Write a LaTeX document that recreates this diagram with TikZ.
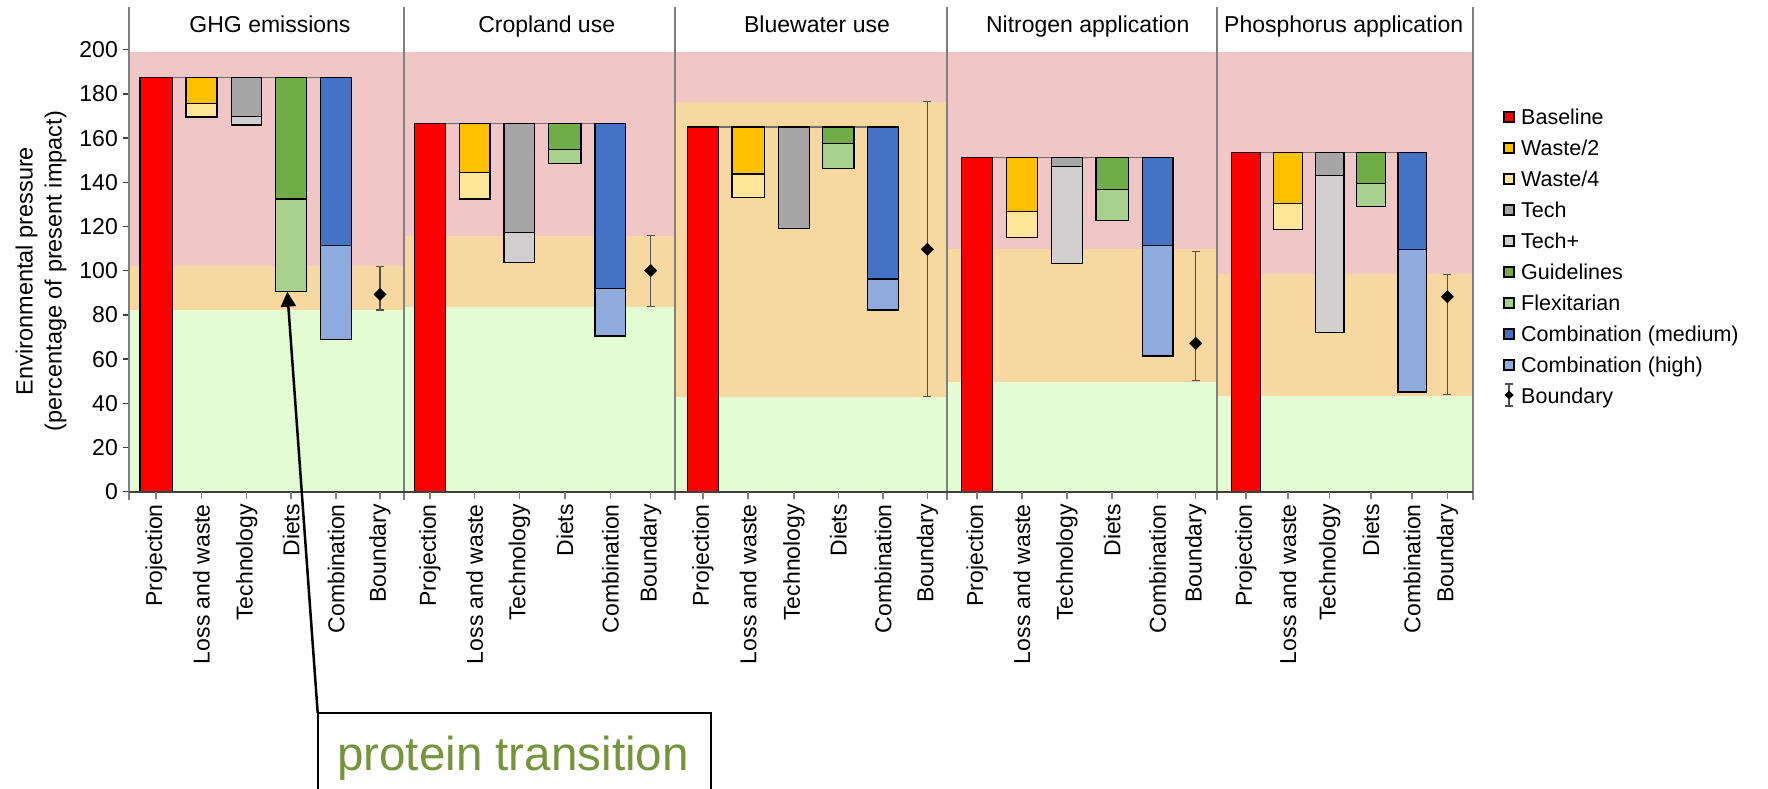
\documentclass[tikz,border=0pt]{standalone}
\usepackage{fontspec}
\setmainfont{Liberation Sans}
\usetikzlibrary{arrows.meta}
\definecolor{bandpink}{HTML}{F1C6C7}
\definecolor{bandorange}{HTML}{F7D8A0}
\definecolor{bandgreen}{HTML}{E3FCD3}
\definecolor{cbase}{HTML}{FF0000}
\definecolor{cwtwo}{HTML}{FFC000}
\definecolor{cwfour}{HTML}{FFE699}
\definecolor{ctech}{HTML}{A6A6A6}
\definecolor{ctechp}{HTML}{D0CECE}
\definecolor{cguide}{HTML}{70AD47}
\definecolor{cflex}{HTML}{A9D18E}
\definecolor{cmed}{HTML}{4472C4}
\definecolor{chigh}{HTML}{8FAADC}
\definecolor{sepgray}{HTML}{808080}
\definecolor{axgray}{HTML}{404040}
\definecolor{errgray}{HTML}{505050}
\definecolor{refgray}{HTML}{707070}
\definecolor{ptgreen}{HTML}{77933C}
\newcommand\seg[5]{\draw[barline,fill=#1] (#2,#4) rectangle (#3,#5);}
\newcommand\bnd[4]{%
  \draw[errbar] (#1,#2) -- (#1,#3);
  \draw[errbar] ([xshift=-4pt]#1,#2) -- ([xshift=4pt]#1,#2);
  \draw[errbar] ([xshift=-4pt]#1,#3) -- ([xshift=4pt]#1,#3);
  \fill[black] ([xshift=-6.5pt]#1,#4) -- ([yshift=6.5pt]#1,#4) -- ([xshift=6.5pt]#1,#4) -- ([yshift=-6.5pt]#1,#4) -- cycle;}
\tikzset{
  barline/.style={draw=black, line width=1.4pt},
  sepline/.style={draw=sepgray, line width=2pt},
  ticklab/.style={font=\fontsize{23}{27}\selectfont, inner sep=0pt, anchor=east},
  xlab/.style={font=\fontsize{23}{27}\selectfont, inner sep=0pt, rotate=90, anchor=east},
  ptitle/.style={font=\fontsize{23}{27}\selectfont, inner sep=0pt, anchor=base},
  legtext/.style={font=\fontsize{21.5}{25}\selectfont, inner sep=0pt, anchor=base west},
  legbox/.style={draw=black, line width=1.2pt},
  errbar/.style={draw=errgray, line width=1.2pt},
  refline/.style={draw=refgray, line width=1.5pt},
}
\begin{document}
\begin{tikzpicture}[x=1pt,y=1pt]
\useasboundingbox (0,0) rectangle (1768,789);
\fill[white] (0,0) rectangle (1768,789);
\begin{scope}[yshift=297.3pt, y=2.21pt]
  % bands
  \fill[bandpink] (129.3,102) rectangle (404,199);
  \fill[bandorange] (129.3,82) rectangle (404,102);
  \fill[bandgreen] (129.3,0) rectangle (404,82);
  \fill[bandpink] (404,115.8) rectangle (675.3,199);
  \fill[bandorange] (404,83.4) rectangle (675.3,115.8);
  \fill[bandgreen] (404,0) rectangle (675.3,83.4);
  \fill[bandpink] (675.3,176.5) rectangle (946.7,199);
  \fill[bandorange] (675.3,43) rectangle (946.7,176.5);
  \fill[bandgreen] (675.3,0) rectangle (946.7,43);
  \fill[bandpink] (946.7,109.7) rectangle (1217,199);
  \fill[bandorange] (946.7,49.8) rectangle (1217,109.7);
  \fill[bandgreen] (946.7,0) rectangle (1217,49.8);
  \fill[bandpink] (1217,98.5) rectangle (1472.7,199);
  \fill[bandorange] (1217,43.4) rectangle (1472.7,98.5);
  \fill[bandgreen] (1217,0) rectangle (1472.7,43.4);
  % reference lines
  \draw[refline] (140,187.5) -- (351.7,187.5);
  \draw[refline] (414.3,166.7) -- (625.7,166.7);
  \draw[refline] (687.3,165) -- (898.7,165);
  \draw[refline] (961.7,151.3) -- (1173,151.3);
  \draw[refline] (1231.7,153.4) -- (1426.3,153.4);
  % panel 1
  \seg{cbase}{140}{172.3}{0}{187.5}
  \seg{cwtwo}{186}{217}{175.7}{187.5}
  \seg{cwfour}{186}{217}{169.5}{175.7}
  \seg{ctech}{231.7}{261.7}{169.7}{187.5}
  \seg{ctechp}{231.7}{261.7}{165.9}{169.7}
  \seg{cguide}{275.7}{306.7}{132.4}{187.5}
  \seg{cflex}{275.7}{306.7}{90.5}{132.4}
  \seg{cmed}{320.7}{351.7}{111.5}{187.5}
  \seg{chigh}{320.7}{351.7}{69}{111.5}
  \bnd{380}{82.2}{101.8}{89.3}
  % panel 2
  \seg{cbase}{414.3}{445.3}{0}{166.7}
  \seg{cwtwo}{459.3}{490}{144.3}{166.7}
  \seg{cwfour}{459.3}{490}{132.4}{144.3}
  \seg{ctech}{504}{534.7}{117.2}{166.7}
  \seg{ctechp}{504}{534.7}{103.8}{117.2}
  \seg{cguide}{548.7}{581}{154.8}{166.7}
  \seg{cflex}{548.7}{581}{148.6}{154.8}
  \seg{cmed}{595}{625.7}{92}{166.7}
  \seg{chigh}{595}{625.7}{70.5}{92}
  \bnd{650.7}{83.7}{115.8}{100}
  % panel 3
  \seg{cbase}{687.3}{718.3}{0}{165}
  \seg{cwtwo}{732}{764.3}{143.8}{165}
  \seg{cwfour}{732}{764.3}{133}{143.8}
  \seg{ctech}{778.3}{809.3}{119.2}{165}
  \seg{cguide}{822.7}{854}{157.6}{165}
  \seg{cflex}{822.7}{854}{146.3}{157.6}
  \seg{cmed}{867.7}{898.7}{96.2}{165}
  \seg{chigh}{867.7}{898.7}{82.2}{96.2}
  \bnd{927.3}{43}{176.5}{109.7}
  % panel 4
  \seg{cbase}{961.7}{992.7}{0}{151.3}
  \seg{cwtwo}{1006.7}{1037.3}{126.9}{151.3}
  \seg{cwfour}{1006.7}{1037.3}{114.9}{126.9}
  \seg{ctech}{1051.3}{1082.3}{147.1}{151.3}
  \seg{ctechp}{1051.3}{1082.3}{103.3}{147.1}
  \seg{cguide}{1096}{1128.3}{136.7}{151.3}
  \seg{cflex}{1096}{1128.3}{122.8}{136.7}
  \seg{cmed}{1142.3}{1173}{111.5}{151.3}
  \seg{chigh}{1142.3}{1173}{61.4}{111.5}
  \bnd{1195.7}{50.2}{108.6}{67.1}
  % panel 5
  \seg{cbase}{1231.7}{1260.3}{0}{153.4}
  \seg{cwtwo}{1273.3}{1302.7}{130.5}{153.4}
  \seg{cwfour}{1273.3}{1302.7}{118.6}{130.5}
  \seg{ctech}{1315.3}{1344}{143}{153.4}
  \seg{ctechp}{1315.3}{1344}{72}{143}
  \seg{cguide}{1356.7}{1385.3}{139.5}{153.4}
  \seg{cflex}{1356.7}{1385.3}{129}{139.5}
  \seg{cmed}{1398}{1426.3}{109.7}{153.4}
  \seg{chigh}{1398}{1426.3}{45.2}{109.7}
  \bnd{1447.3}{43.8}{98.4}{88.2}
  % y ticks
  \foreach \v [count=\i] in {0,20,...,200}{
    \draw[axgray, line width=1.5pt] (122.5,\v) -- (129.3,\v);
    \node[ticklab] (yt\i) at (118,\v) {\v};
  }
\end{scope}
% separators and axis
\foreach \sx in {129.3,404,675.3,946.7,1217,1472.7}{
  \draw[sepline] (\sx,782) -- (\sx,289);
}
\draw[axgray, line width=2pt] (129.3,297.3) -- (1472.7,297.3);
% x ticks and labels
\foreach \a/\b/\c/\d/\e/\f [count=\i] in {156.2/201.5/246.7/291.2/336.2/380, 429.8/474.7/519.3/564.8/610.3/650.7, 702.8/748.2/793.8/838.3/883.2/927.3, 977.2/1022/1066.8/1112.2/1157.7/1195.7, 1246/1288/1329.7/1371/1412.2/1447.3}{
  \foreach \t in {\a,\b,\c,\d,\e,\f}{\draw[sepgray, line width=1.5pt] (\t,297.3) -- (\t,290);}
  \node[xlab] (xa\i) at (\a,285) {Projection};
  \node[xlab] (xb\i) at (\b,285) {Loss and waste};
  \node[xlab] (xc\i) at (\c,285) {Technology};
  \node[xlab] (xd\i) at (\d,285) {Diets};
  \node[xlab] (xe\i) at (\e,285) {Combination};
  \node[xlab] (xf\i) at (\f,285) {Boundary};
}
% titles
\node[ptitle] (t1) at (270,756) {GHG emissions};
\node[ptitle] (t2) at (546.7,756) {Cropland use};
\node[ptitle] (t3) at (817,756) {Bluewater use};
\node[ptitle] (t4) at (1087.7,756) {Nitrogen application};
\node[ptitle] (t5) at (1343.7,756) {Phosphorus application};
% y label
\node[rotate=90, align=center, inner sep=0pt, font=\fontsize{23.5}{29}\selectfont] (ylab) at (41,518) {Environmental pressure\\(percentage of present impact)};
% legend
\foreach \col/\txt [count=\i] in {cbase/Baseline, cwtwo/Waste\slash 2, cwfour/Waste\slash 4, ctech/Tech, ctechp/Tech+, cguide/Guidelines, cflex/Flexitarian, cmed/Combination (medium), chigh/Combination (high)}{
  \pgfmathsetmacro\cy{789-117-31*(\i-1)}
  \draw[legbox, fill=\col] (1504,\cy-5) rectangle (1514,\cy+5);
  \node[legtext] (lg\i) at (1521,\cy-7.8) {\txt};
}
\draw[errbar] (1509,405) -- (1509,383);
\draw[errbar] (1505,405) -- (1513,405);
\draw[errbar] (1505,383) -- (1513,383);
\fill[black] (1504.5,394) -- (1509,398.5) -- (1513.5,394) -- (1509,389.5) -- cycle;
\node[legtext] (lg10) at (1521,385.2) {Boundary};
% annotation
\coordinate (boxc) at (317.7,76);
\coordinate (arrtip) at (287.3,497.3);
\draw[line width=1.6pt] (317.7,0) -- (boxc) -- (710.7,76) -- (710.7,0);
\draw[line width=2.5pt, -{Triangle[width=15pt,length=15pt]}] (boxc) -- (arrtip);
\node[font=\fontsize{47.6}{55}\selectfont, text=ptgreen, anchor=base, inner sep=0pt] (pt) at (513,18.3) {protein transition};
\end{tikzpicture}
\end{document}
